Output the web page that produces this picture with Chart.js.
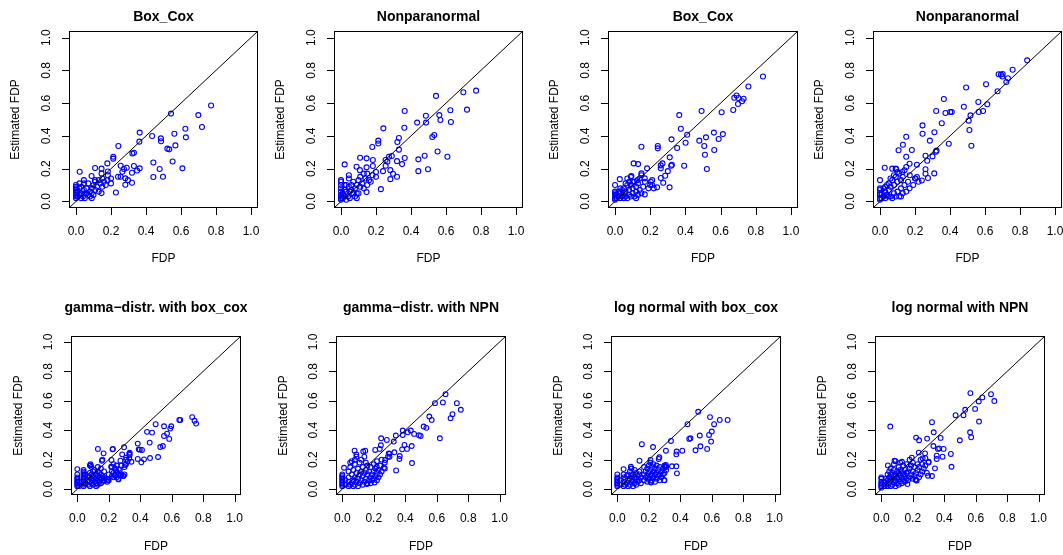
<!DOCTYPE html>
<html>
<head>
<meta charset="utf-8">
<title>Estimated FDP vs FDP</title>
<script src="https://cdn.jsdelivr.net/npm/chart.js@4.4.1/dist/chart.umd.min.js"></script>
<style>
  html, body { margin: 0; padding: 0; background: #fff; }
  body { position: relative; width: 1063px; height: 555px; overflow: hidden; }
  canvas { position: absolute; }
</style>
</head>
<body>
<script>
// --- top-left pair: same true FDP, two estimators ---
const fdpA = [
  0.772, 0.699, 0.72, 0.625, 0.628, 0.543, 0.562, 0.568, 0.485, 0.486,
  0.435, 0.522, 0.533, 0.442, 0.552, 0.608, 0.478, 0.442, 0.497, 0.364,
  0.362, 0.242, 0.322, 0.331, 0.213, 0.213, 0.179, 0.255, 0.29, 0.331,
  0.364, 0.349, 0.274, 0.265, 0.32, 0.24, 0.255, 0.282, 0.297, 0.282,
  0.32, 0.228, 0.146, 0.109, 0.021, 0.089, 0.146, 0.182, 0.108, 0.146, 0.182,
  0, 0, 0, 0, 0, 0, 0, 0, 0, 0.01, 0.01, 0.02, 0.02, 0.03, 0.03, 0.04,
  0.045, 0.045, 0.045, 0.05, 0.05, 0.06, 0.07, 0.07, 0.08, 0.08, 0.09, 0.09, 0.09,
  0.1, 0.11, 0.11, 0.12, 0.13, 0.14, 0.15, 0.15, 0.16, 0.17, 0.18, 0.2, 0.2,
  0.06, 0.02, 0.1, 0.13, 0.03
];
const estBoxCoxA = [
  0.585, 0.527, 0.454, 0.444, 0.391, 0.536, 0.413, 0.342, 0.385, 0.367,
  0.399, 0.322, 0.318, 0.238, 0.244, 0.202, 0.198, 0.149, 0.151, 0.42,
  0.365, 0.338, 0.293, 0.297, 0.273, 0.261, 0.232, 0.218, 0.206, 0.216,
  0.202, 0.189, 0.198, 0.181, 0.175, 0.151, 0.151, 0.141, 0.13, 0.102,
  0.114, 0.055, 0.051, 0.204, 0.181, 0.155, 0.2, 0.183, 0.13, 0.17, 0.16,
  0.02, 0.03, 0.04, 0.05, 0.06, 0.07, 0.08, 0.09, 0.1, 0.03, 0.06, 0.04, 0.08, 0.05, 0.09, 0.03,
  0.11, 0.13, 0.07, 0.02, 0.05, 0.08, 0.04, 0.11, 0.03, 0.06, 0.02, 0.05, 0.08,
  0.1, 0.07, 0.12, 0.09, 0.06, 0.11, 0.14, 0.09, 0.12, 0.1, 0.13, 0.11, 0.14,
  0.05, 0.11, 0.04, 0.13, 0.02
];
const estNpnA = [
  0.676, 0.666, 0.56, 0.556, 0.485, 0.644, 0.527, 0.497, 0.523, 0.481,
  0.481, 0.393, 0.405, 0.257, 0.305, 0.273, 0.279, 0.185, 0.196, 0.552,
  0.45, 0.446, 0.363, 0.387, 0.371, 0.354, 0.332, 0.253, 0.277, 0.316,
  0.265, 0.228, 0.273, 0.242, 0.246, 0.185, 0.218, 0.191, 0.169, 0.136,
  0.151, 0.075, 0.057, 0.267, 0.226, 0.212, 0.263, 0.253, 0.191, 0.208, 0.216,
  0.01, 0.02, 0.03, 0.04, 0.06, 0.08, 0.1, 0.12, 0.13, 0.02, 0.05, 0.03, 0.07, 0.06, 0.1, 0.03,
  0.14, 0.16, 0.09, 0.02, 0.06, 0.1, 0.05, 0.12, 0.03, 0.08, 0.02, 0.05, 0.1,
  0.13, 0.09, 0.15, 0.11, 0.08, 0.14, 0.17, 0.1, 0.13, 0.12, 0.16, 0.15, 0.18,
  0.07, 0.1, 0.05, 0.17, 0.01
];

// --- top-right pair ---
const fdpB = [
  0.841, 0.758, 0.691, 0.678, 0.701, 0.731, 0.722, 0.699, 0.672, 0.606,
  0.492, 0.365, 0.374, 0.41, 0.321, 0.401, 0.353, 0.243, 0.243, 0.15,
  0.562, 0.613, 0.517, 0.589, 0.479, 0.507, 0.564, 0.511, 0.522, 0.393,
  0.311, 0.285, 0.323, 0.319, 0.26, 0.3, 0.26, 0.27, 0.26, 0.274,
  0.31, 0.239, 0.211, 0.106, 0.131, 0.182, 0.15, 0.169, 0.211, 0.093,
  0.027, 0, 0.127, 0.169, 0.203,
  0, 0, 0, 0, 0, 0, 0.01, 0.01, 0.02, 0.02, 0.03, 0.03, 0.04, 0.04,
  0.05, 0.05, 0.05, 0.06, 0.06, 0.07, 0.07, 0.07, 0.08, 0.08, 0.09, 0.09, 0.09,
  0.1, 0.1, 0.11, 0.11, 0.12, 0.12, 0.13, 0.13, 0.14, 0.15, 0.15, 0.16, 0.17,
  0.14, 0.12, 0.08, 0.06, 0.03, 0.19, 0.2, 0.22, 0.1
];
const estBoxCoxB = [
  0.762, 0.701, 0.646, 0.633, 0.631, 0.627, 0.611, 0.595, 0.558, 0.544,
  0.552, 0.527, 0.444, 0.407, 0.379, 0.358, 0.326, 0.338, 0.324, 0.334,
  0.42, 0.411, 0.391, 0.381, 0.371, 0.338, 0.314, 0.285, 0.198, 0.218,
  0.269, 0.157, 0.224, 0.218, 0.22, 0.185, 0.202, 0.232, 0.143, 0.114,
  0.086, 0.086, 0.1, 0.232, 0.228, 0.202, 0.171, 0.141, 0.13, 0.155,
  0.136, 0.1, 0.13, 0.043, 0.12,
  0.01, 0.02, 0.03, 0.04, 0.05, 0.06, 0.02, 0.04, 0.03, 0.06, 0.02, 0.05, 0.03, 0.07,
  0.02, 0.05, 0.08, 0.03, 0.06, 0.02, 0.1, 0.14, 0.04, 0.07, 0.03, 0.1, 0.15,
  0.05, 0.08, 0.03, 0.12, 0.06, 0.09, 0.04, 0.11, 0.07, 0.05, 0.16, 0.09, 0.12,
  0.14, 0.02, 0.12, 0.11, 0.08, 0.08, 0.1, 0.08, 0.12
];
const estNpnB = [
  0.861, 0.804, 0.774, 0.776, 0.778, 0.752, 0.729, 0.762, 0.672, 0.715,
  0.695, 0.625, 0.54, 0.546, 0.552, 0.546, 0.477, 0.464, 0.413, 0.395,
  0.607, 0.593, 0.525, 0.552, 0.578, 0.493, 0.546, 0.436, 0.34, 0.352,
  0.422, 0.371, 0.31, 0.303, 0.279, 0.275, 0.196, 0.248, 0.169, 0.143,
  0.171, 0.128, 0.149, 0.312, 0.346, 0.314, 0.273, 0.23, 0.224, 0.196,
  0.206, 0.13, 0.18, 0.08, 0.14,
  0.01, 0.02, 0.04, 0.05, 0.07, 0.08, 0.02, 0.05, 0.03, 0.08, 0.02, 0.06, 0.04, 0.1,
  0.03, 0.07, 0.11, 0.03, 0.09, 0.02, 0.13, 0.2, 0.05, 0.1, 0.03, 0.15, 0.2,
  0.06, 0.12, 0.03, 0.17, 0.08, 0.13, 0.05, 0.15, 0.1, 0.06, 0.21, 0.12, 0.16,
  0.19, 0.03, 0.16, 0.14, 0.09, 0.1, 0.14, 0.12, 0.18
];

// --- gamma distribution, box_cox ---
const fdpGammaBC = [
  0.73, 0.745, 0.755, 0.654, 0.648, 0.597, 0.591, 0.584, 0.57, 0.551,
  0.551, 0.544, 0.527, 0.498, 0.443, 0.475, 0.46, 0.462, 0.513, 0.424,
  0.384, 0.407, 0.384, 0.397, 0.411, 0.39, 0.333, 0.333, 0.344, 0.297,
  0.285, 0.274, 0.31, 0.304, 0.224, 0.226, 0.217, 0.131, 0.167, 0.156,
  0.215, 0.245, 0.264, 0.236, 0.262, 0.276, 0.293, 0.196, 0.158, 0.084,
  0.084, 0,
  0, 0, 0, 0, 0, 0, 0, 0, 0.01, 0.01,
  0.04, 0.04, 0.04, 0.04, 0.04, 0.04, 0.04, 0.04, 0.04, 0.04, 0.04, 0.04,
  0.05, 0.05, 0.07, 0.07, 0.07, 0.08, 0.08, 0.08, 0.08, 0.08,
  0.09, 0.09, 0.09, 0.09, 0.1, 0.1, 0.1, 0.1, 0.11, 0.11, 0.11,
  0.12, 0.12, 0.12, 0.12, 0.13, 0.13, 0.13, 0.13, 0.13, 0.14, 0.14, 0.14,
  0.15, 0.15, 0.15, 0.15, 0.16, 0.16, 0.16, 0.17, 0.17, 0.17, 0.19, 0.19, 0.2, 0.2,
  0.22, 0.22, 0.22, 0.23, 0.23, 0.23, 0.24, 0.24, 0.25, 0.25, 0.25, 0.26, 0.26,
  0.27, 0.27, 0.28, 0.28, 0.29, 0.3, 0.3, 0.31, 0.31, 0.32, 0.33, 0.33
];
const estGammaBC = [
  0.489, 0.464, 0.445, 0.47, 0.47, 0.427, 0.411, 0.341, 0.377, 0.427,
  0.361, 0.293, 0.286, 0.441, 0.389, 0.384, 0.316, 0.211, 0.218, 0.202,
  0.205, 0.182, 0.309, 0.268, 0.266, 0.27, 0.248, 0.232, 0.186, 0.284,
  0.236, 0.193, 0.214, 0.164, 0.27, 0.273, 0.198, 0.273, 0.243, 0.193,
  0.152, 0.13, 0.136, 0.095, 0.066, 0.095, 0.089, 0.061, 0.073, 0.17,
  0.161, 0.136,
  0.02, 0.03, 0.04, 0.05, 0.06, 0.07, 0.08, 0.1, 0.02, 0.05,
  0.02, 0.03, 0.04, 0.05, 0.06, 0.07, 0.08, 0.09, 0.1, 0.11, 0.12, 0.13,
  0.04, 0.1, 0.03, 0.06, 0.09, 0.02, 0.05, 0.08, 0.11, 0.16,
  0.04, 0.07, 0.1, 0.15, 0.03, 0.06, 0.09, 0.12, 0.05, 0.08, 0.13,
  0.02, 0.04, 0.07, 0.1, 0.03, 0.06, 0.09, 0.12, 0.15, 0.05, 0.08, 0.11,
  0.04, 0.07, 0.1, 0.14, 0.05, 0.09, 0.2, 0.06, 0.08, 0.12, 0.07, 0.05, 0.06, 0.1,
  0.12, 0.15, 0.09, 0.11, 0.17, 0.08, 0.1, 0.14, 0.12, 0.16, 0.08, 0.07, 0.1,
  0.09, 0.13, 0.1, 0.16, 0.09, 0.1, 0.15, 0.17, 0.2, 0.19, 0.21, 0.24
];

// --- gamma distribution, NPN ---
const fdpGammaNPN = [
  0.728, 0.753, 0.7, 0.688, 0.656, 0.639, 0.589, 0.553, 0.568, 0.62,
  0.517, 0.534, 0.487, 0.498, 0.456, 0.435, 0.416, 0.384, 0.384, 0.395,
  0.411, 0.441, 0.443, 0.342, 0.365, 0.363, 0.38, 0.331, 0.34, 0.327,
  0.283, 0.247, 0.245, 0.238, 0.209, 0.146, 0.133, 0.078, 0.089, 0.011,
  0.295, 0.3, 0.272, 0.264, 0.219, 0.205, 0.156,
  0, 0, 0, 0, 0, 0, 0, 0, 0, 0.02, 0.02,
  0.04, 0.04, 0.04, 0.04, 0.05, 0.05, 0.05, 0.06, 0.06, 0.06, 0.07, 0.07, 0.07,
  0.08, 0.08, 0.08, 0.08, 0.09, 0.09, 0.09, 0.1, 0.1, 0.1, 0.11, 0.11, 0.11,
  0.12, 0.12, 0.12, 0.13, 0.13, 0.13, 0.14, 0.14, 0.14, 0.15, 0.15, 0.15, 0.16, 0.16, 0.16,
  0.17, 0.17, 0.18, 0.18, 0.18, 0.19, 0.19, 0.2, 0.2, 0.2, 0.21, 0.21, 0.22, 0.22, 0.22,
  0.23, 0.23, 0.24, 0.24, 0.25, 0.25, 0.27, 0.27, 0.29, 0.3
];
const estGammaNPN = [
  0.584, 0.539, 0.509, 0.482, 0.645, 0.589, 0.584, 0.493, 0.47, 0.345,
  0.425, 0.416, 0.366, 0.361, 0.375, 0.398, 0.386, 0.398, 0.368, 0.3,
  0.273, 0.293, 0.177, 0.127, 0.225, 0.205, 0.27, 0.25, 0.364, 0.323,
  0.334, 0.345, 0.298, 0.273, 0.266, 0.261, 0.255, 0.261, 0.236, 0.145,
  0.243, 0.22, 0.198, 0.145, 0.152, 0.045, 0.034,
  0.02, 0.03, 0.04, 0.05, 0.06, 0.07, 0.08, 0.09, 0.1, 0.03, 0.06,
  0.02, 0.05, 0.08, 0.12, 0.15, 0.18, 0.03, 0.04, 0.1, 0.19, 0.02, 0.06, 0.13,
  0.03, 0.08, 0.17, 0.2, 0.05, 0.11, 0.22, 0.02, 0.07, 0.14, 0.04, 0.1, 0.18,
  0.06, 0.12, 0.2, 0.03, 0.09, 0.15, 0.05, 0.11, 0.22, 0.07, 0.13, 0.18, 0.04, 0.1, 0.16,
  0.06, 0.12, 0.08, 0.15, 0.04, 0.1, 0.06, 0.12, 0.07, 0.17, 0.09, 0.14, 0.11, 0.06, 0.19,
  0.13, 0.08, 0.1, 0.16, 0.12, 0.2, 0.14, 0.18, 0.22, 0.24
];

// --- log normal, box_cox ---
const fdpLogBC = [
  0.701, 0.651, 0.615, 0.589, 0.6, 0.583, 0.596, 0.571, 0.514, 0.446,
  0.524, 0.528, 0.497, 0.465, 0.457, 0.413, 0.377, 0.375, 0.379, 0.347,
  0.375, 0.341, 0.309, 0.227, 0.156, 0.267, 0.263, 0.211, 0.141, 0.309,
  0.303, 0.297, 0.215, 0.04, 0.086,
  0, 0, 0, 0, 0, 0, 0, 0, 0.02, 0.02,
  0.04, 0.04, 0.04, 0.04, 0.05, 0.05, 0.06, 0.06, 0.07, 0.07, 0.07,
  0.08, 0.08, 0.08, 0.09, 0.09, 0.09, 0.1, 0.1, 0.1, 0.11, 0.11, 0.11,
  0.12, 0.12, 0.12, 0.13, 0.13, 0.14, 0.14, 0.14, 0.15, 0.15,
  0.17, 0.17, 0.17, 0.18, 0.18, 0.19, 0.19, 0.19, 0.2, 0.2, 0.2, 0.21, 0.21, 0.21, 0.21,
  0.22, 0.22, 0.22, 0.23, 0.23, 0.23, 0.24, 0.24, 0.24, 0.25, 0.25, 0.25,
  0.26, 0.26, 0.27, 0.27, 0.27, 0.28, 0.28, 0.29, 0.29, 0.3, 0.3, 0.3, 0.31, 0.31
];
const estLogBC = [
  0.47, 0.47, 0.441, 0.489, 0.391, 0.368, 0.323, 0.273, 0.525, 0.441,
  0.364, 0.291, 0.264, 0.345, 0.341, 0.261, 0.255, 0.236, 0.107, 0.155,
  0.155, 0.327, 0.261, 0.286, 0.305, 0.216, 0.205, 0.198, 0.193, 0.164,
  0.152, 0.061, 0.045, 0.136, 0.152,
  0.02, 0.03, 0.04, 0.05, 0.06, 0.07, 0.08, 0.1, 0.03, 0.06,
  0.02, 0.05, 0.08, 0.1, 0.03, 0.07, 0.04, 0.09, 0.02, 0.06, 0.1,
  0.03, 0.07, 0.12, 0.05, 0.09, 0.14, 0.02, 0.06, 0.1, 0.04, 0.08, 0.13,
  0.03, 0.07, 0.11, 0.05, 0.09, 0.06, 0.1, 0.12, 0.04, 0.08,
  0.06, 0.1, 0.15, 0.08, 0.12, 0.05, 0.09, 0.14, 0.07, 0.11, 0.16, 0.05, 0.09, 0.13, 0.18,
  0.06, 0.1, 0.15, 0.08, 0.12, 0.17, 0.05, 0.1, 0.14, 0.07, 0.11, 0.16,
  0.09, 0.13, 0.06, 0.1, 0.15, 0.08, 0.12, 0.1, 0.14, 0.06, 0.11, 0.16, 0.13, 0.15
];

// --- log normal, NPN ---
const fdpLogNPN = [
  0.566, 0.697, 0.642, 0.619, 0.718, 0.533, 0.522, 0.472, 0.596, 0.621,
  0.564, 0.571, 0.499, 0.057, 0.322, 0.333, 0.221, 0.24, 0.291, 0.377,
  0.331, 0.36, 0.368, 0.396, 0.389, 0.352, 0.352, 0.442, 0.446, 0.238,
  0.194, 0.278, 0.263, 0.301, 0.341, 0.297, 0.322, 0.225, 0.217, 0.166,
  0.084, 0.131, 0.042,
  0, 0, 0, 0, 0, 0, 0, 0.02, 0.02, 0.03, 0.03,
  0.04, 0.04, 0.04, 0.05, 0.05, 0.05, 0.06, 0.06, 0.06, 0.06, 0.07, 0.07, 0.07,
  0.08, 0.08, 0.08, 0.08, 0.09, 0.09, 0.09, 0.09, 0.1, 0.1, 0.1, 0.11, 0.11, 0.11, 0.11,
  0.12, 0.12, 0.12, 0.12, 0.13, 0.13, 0.13, 0.14, 0.14, 0.14, 0.15, 0.15, 0.15, 0.16, 0.16, 0.16,
  0.17, 0.17, 0.18, 0.18, 0.18, 0.19, 0.19, 0.2, 0.2, 0.2, 0.21, 0.21, 0.22, 0.22,
  0.23, 0.23, 0.24, 0.24, 0.25, 0.25, 0.26, 0.26, 0.27, 0.28, 0.28, 0.29, 0.3
];
const estLogNPN = [
  0.652, 0.645, 0.623, 0.595, 0.598, 0.539, 0.502, 0.502, 0.545, 0.459,
  0.386, 0.352, 0.332, 0.425, 0.455, 0.386, 0.35, 0.332, 0.343, 0.348,
  0.293, 0.273, 0.277, 0.273, 0.22, 0.227, 0.205, 0.239, 0.152, 0.248,
  0.214, 0.243, 0.209, 0.186, 0.141, 0.091, 0.089, 0.059, 0.066, 0.034,
  0.193, 0.186, 0.161,
  0.01, 0.02, 0.03, 0.04, 0.05, 0.07, 0.08, 0.02, 0.05, 0.03, 0.07,
  0.02, 0.06, 0.1, 0.04, 0.08, 0.12, 0.02, 0.06, 0.1, 0.14, 0.03, 0.07, 0.11,
  0.05, 0.09, 0.13, 0.17, 0.02, 0.06, 0.1, 0.19, 0.04, 0.08, 0.12, 0.03, 0.07, 0.11, 0.15,
  0.05, 0.09, 0.13, 0.18, 0.04, 0.08, 0.12, 0.06, 0.1, 0.16, 0.05, 0.09, 0.13, 0.07, 0.11, 0.17,
  0.06, 0.12, 0.08, 0.14, 0.2, 0.1, 0.16, 0.07, 0.12, 0.18, 0.09, 0.15, 0.11, 0.06,
  0.13, 0.17, 0.08, 0.15, 0.1, 0.2, 0.12, 0.17, 0.14, 0.16, 0.21, 0.11, 0.18
];

const panelTitles = [
  "Box_Cox", "Nonparanormal", "Box_Cox", "Nonparanormal",
  "gamma\u2212distr. with box_cox", "gamma\u2212distr. with NPN",
  "log normal with box_cox", "log normal with NPN"
];
const panelSeries = [
  [fdpA, estBoxCoxA], [fdpA, estNpnA], [fdpB, estBoxCoxB], [fdpB, estNpnB],
  [fdpGammaBC, estGammaBC], [fdpGammaNPN, estGammaNPN],
  [fdpLogBC, estLogBC], [fdpLogNPN, estLogNPN]
];
const axisTicks = [0, 0.2, 0.4, 0.6, 0.8, 1.0];
const axisTickLabels = ["0.0", "0.2", "0.4", "0.6", "0.8", "1.0"];
const xTitle = "FDP";
const yTitle = "Estimated FDP";
// limits 0..1 widened by 4% on each side, as R does
const axisMin = -0.04;
const axisMax = 1.04;

// plot boxes in page pixels: left, top, width, height
const boxes = [
  [69, 31, 189, 177], [334, 31, 189, 177], [608, 31, 190, 177], [873, 31, 189, 177],
  [71, 336, 170, 159], [336, 336, 170, 159], [611, 336, 170, 159], [875, 336, 170, 159]
];
// text offsets from the box, per row
const rowText = [
  { title: 14, xTick: 24, yTick: 22.6, xLab: 50.3, yLab: 53, r: 2.5 },
  { title: 28.3, xTick: 23.4, yTick: 22.4, xLab: 51.7, yLab: 52.4, r: 2.4 }
];
const PAD = { left: 69, top: 40, right: 6, bottom: 62 };
const FONT = "'Liberation Sans', Arial, Helvetica, sans-serif";

// box, ticks and labels drawn R-style around the chart area
const rFrame = {
  id: "rFrame",
  afterDraw(chart, args, opts) {
    const ctx = chart.ctx;
    const a = chart.chartArea;
    const sx = chart.scales.x, sy = chart.scales.y;
    const t = opts.text;
    ctx.save();
    ctx.strokeStyle = "#000";
    ctx.fillStyle = "#000";
    ctx.lineWidth = 1;
    ctx.strokeRect(a.left + 0.5, a.top + 0.5, a.right - a.left - 1, a.bottom - a.top - 1);

    ctx.font = "12px " + FONT;
    ctx.textAlign = "center";
    ctx.textBaseline = "middle";
    ctx.beginPath();
    axisTicks.forEach((v, i) => {
      const px = Math.round(sx.getPixelForValue(v)) + 0.5;
      ctx.moveTo(px, a.bottom);
      ctx.lineTo(px, a.bottom + 7);
      ctx.fillText(axisTickLabels[i], sx.getPixelForValue(v), a.bottom + t.xTick);
      const py = Math.round(sy.getPixelForValue(v)) + 0.5;
      ctx.moveTo(a.left - 7, py);
      ctx.lineTo(a.left, py);
    });
    ctx.stroke();
    axisTicks.forEach((v, i) => {
      ctx.save();
      ctx.translate(a.left - t.yTick, sy.getPixelForValue(v));
      ctx.rotate(-Math.PI / 2);
      ctx.fillText(axisTickLabels[i], 0, 0);
      ctx.restore();
    });

    const cx = (a.left + a.right) / 2;
    const cy = (a.top + a.bottom) / 2;
    ctx.fillText(xTitle, cx, a.bottom + t.xLab);
    ctx.save();
    ctx.translate(a.left - t.yLab, cy);
    ctx.rotate(-Math.PI / 2);
    ctx.fillText(yTitle, 0, 0);
    ctx.restore();

    ctx.font = "bold 14px " + FONT;
    ctx.fillText(opts.title, cx, a.top - t.title);
    ctx.restore();
  }
};

boxes.forEach((b, i) => {
  const [left, top, w, h] = b;
  const row = rowText[i < 4 ? 0 : 1];
  const [xs, ys] = panelSeries[i];

  const canvas = document.createElement("canvas");
  canvas.width = w + PAD.left + PAD.right;
  canvas.height = h + PAD.top + PAD.bottom;
  canvas.style.left = (left - PAD.left) + "px";
  canvas.style.top = (top - PAD.top) + "px";
  document.body.appendChild(canvas);

  new Chart(canvas.getContext("2d"), {
    type: "scatter",
    data: {
      datasets: [
        {
          // abline(0, 1)
          data: [{ x: axisMin, y: axisMin }, { x: axisMax, y: axisMax }],
          showLine: true,
          borderColor: "#000",
          borderWidth: 1,
          pointRadius: 0,
        },
        {
          data: xs.map((x, k) => ({ x: x, y: ys[k] })),
          pointStyle: "circle",
          pointRadius: row.r,
          borderWidth: 1.1,
          borderColor: "#0000ff",
          backgroundColor: "rgba(0,0,0,0)",
        },
      ],
    },
    plugins: [rFrame],
    options: {
      responsive: false,
      animation: false,
      devicePixelRatio: 1,
      events: [],
      layout: { padding: PAD },
      scales: {
        x: { type: "linear", min: axisMin, max: axisMax, display: false },
        y: { type: "linear", min: axisMin, max: axisMax, display: false },
      },
      plugins: {
        legend: { display: false },
        tooltip: { enabled: false },
        rFrame: { title: panelTitles[i], text: row },
      },
    },
  });
});
</script>
</body>
</html>
